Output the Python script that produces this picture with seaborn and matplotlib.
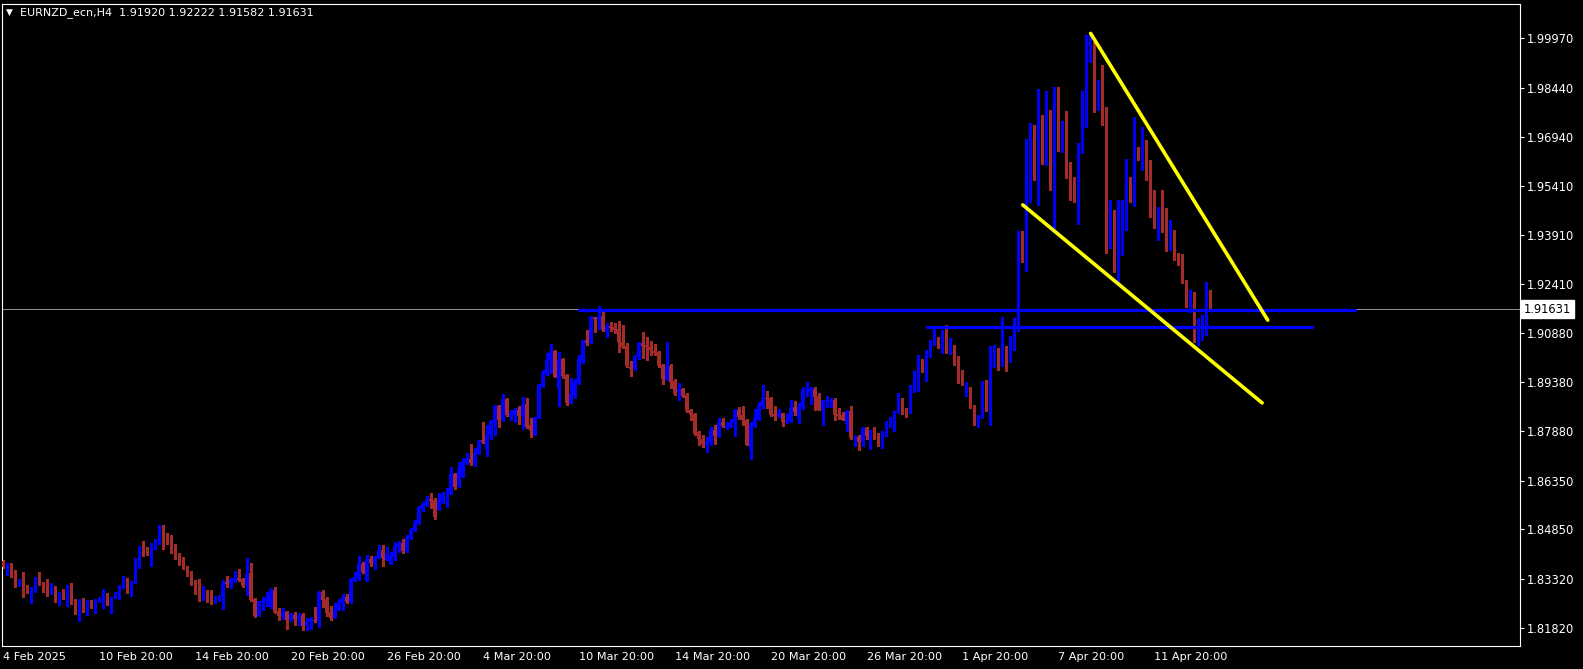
import numpy as np
import pandas as pd
import matplotlib
matplotlib.use("Agg")
import matplotlib.pyplot as plt
import seaborn as sns

# ---------------- data ----------------
title_text = "EURNZD_ecn,H4  1.91920 1.92222 1.91582 1.91631"

opens = [
1.8388,1.8349,1.8372,1.8354,1.8313,1.8331,1.8310,1.8280,1.8293,1.8337,
1.8316,1.8316,1.8288,1.8273,1.8267,1.8285,1.8273,1.8291,1.8265,1.8231,
1.8269,1.8237,1.8254,1.8246,1.8262,1.8246,1.8275,1.8256,1.8274,1.8283,
1.8305,1.8315,1.8290,1.8320,1.8392,1.8432,1.8429,1.8374,1.8426,1.8442,
1.8491,1.8457,1.8452,1.8421,1.8400,1.8390,1.8365,1.8347,1.8323,1.8306,
1.8286,1.8292,1.8271,1.8264,1.8265,1.8278,1.8323,1.8317,1.8325,1.8335,
1.8332,1.8312,1.8351,1.8269,1.8219,1.8262,1.8264,1.8244,1.8298,1.8234,
1.8219,1.8230,1.8206,1.8221,1.8209,1.8221,1.8187,1.8199,1.8206,1.8201,
1.8292,1.8270,1.8231,1.8213,1.8237,1.8259,1.8276,1.8261,1.8326,1.8336,
1.8377,1.8326,1.8393,1.8382,1.8397,1.8421,1.8391,1.8379,1.8400,1.8430,
1.8442,1.8418,1.8459,1.8483,1.8503,1.8547,1.8560,1.8578,1.8575,1.8547,
1.8570,1.8592,1.8595,1.8655,1.8619,1.8647,1.8688,1.8701,1.8690,1.8718,
1.8760,1.8729,1.8778,1.8813,1.8865,1.8820,1.8885,1.8832,1.8837,1.8852,
1.8834,1.8871,1.8806,1.8775,1.8829,1.8927,1.8963,1.9004,1.9034,1.8921,
1.9008,1.8960,1.8875,1.8899,1.8936,1.9001,1.9067,1.9060,1.9138,1.9134,
1.9142,1.9094,1.9111,1.9107,1.9102,1.9061,1.9050,1.8986,1.8979,1.9017,
1.9058,1.9053,1.9046,1.9035,1.9031,1.8991,1.8947,1.8988,1.8943,1.8909,
1.8917,1.8899,1.8852,1.8840,1.8783,1.8763,1.8745,1.8750,1.8791,1.8773,
1.8814,1.8798,1.8801,1.8816,1.8852,1.8837,1.8822,1.8729,1.8803,1.8825,
1.8863,1.8888,1.8888,1.8840,1.8834,1.8842,1.8816,1.8819,1.8861,1.8825,
1.8860,1.8911,1.8912,1.8917,1.8894,1.8851,1.8881,1.8879,1.8883,1.8840,
1.8837,1.8809,1.8850,1.8768,1.8768,1.8755,1.8796,1.8760,1.8786,1.8775,
1.8748,1.8776,1.8809,1.8794,1.8844,1.8883,1.8850,1.8844,1.8912,1.8914,
1.9007,1.8986,1.9032,1.9053,1.9070,1.9032,1.9091,1.9032,1.9050,1.9001,
1.8957,1.8906,1.8914,1.8865,1.8812,1.8830,1.8927,1.8853,1.8994,1.9034,
1.8996,1.9010,1.9012,1.9052,1.9099,1.9400,1.9323,1.9533,1.9702,1.9505,
1.9748,1.9721,1.9758,1.9558,1.9844,1.9653,1.9739,1.9579,1.9527,1.9508,
1.9665,1.9727,1.9930,1.9961,1.9825,1.9847,1.9782,1.9363,1.9465,1.9283,
1.9453,1.9456,1.9558,1.9484,1.9653,1.9631,1.9668,1.9579,1.9490,1.9410,
1.9450,1.9416,1.9351,1.9397,1.9320,1.9320,1.9250,1.9173,1.9210,1.9068,
1.9089,1.9099,1.91920]

highs = [
1.8390,1.8380,1.8380,1.8359,1.8331,1.8353,1.8313,1.8306,1.8339,1.8353,
1.8323,1.8331,1.8318,1.8310,1.8293,1.8301,1.8313,1.8319,1.8269,1.8270,
1.8272,1.8267,1.8267,1.8270,1.8275,1.8300,1.8288,1.8277,1.8293,1.8313,
1.8341,1.8334,1.8327,1.8395,1.8434,1.8448,1.8430,1.8442,1.8455,1.8498,
1.8498,1.8472,1.8467,1.8439,1.8411,1.8399,1.8372,1.8357,1.8328,1.8331,
1.8310,1.8298,1.8298,1.8280,1.8283,1.8329,1.8341,1.8334,1.8356,1.8363,
1.8334,1.8397,1.8381,1.8273,1.8265,1.8276,1.8291,1.8303,1.8308,1.8242,
1.8242,1.8232,1.8228,1.8229,1.8228,1.8227,1.8211,1.8214,1.8246,1.8296,
1.8298,1.8275,1.8249,1.8257,1.8269,1.8285,1.8286,1.8334,1.8354,1.8401,
1.8384,1.8406,1.8401,1.8403,1.8437,1.8437,1.8429,1.8416,1.8445,1.8450,
1.8455,1.8466,1.8488,1.8512,1.8557,1.8570,1.8587,1.8598,1.8580,1.8596,
1.8601,1.8611,1.8677,1.8659,1.8693,1.8705,1.8719,1.8746,1.8736,1.8761,
1.8815,1.8806,1.8822,1.8868,1.8868,1.8902,1.8888,1.8852,1.8858,1.8863,
1.8891,1.8890,1.8827,1.8832,1.8931,1.8976,1.9027,1.9056,1.9037,1.9032,
1.9011,1.8962,1.8950,1.8947,1.9022,1.9068,1.9099,1.9142,1.9140,1.9173,
1.9158,1.9119,1.9122,1.9121,1.9127,1.9114,1.9058,1.9003,1.9022,1.9063,
1.9091,1.9078,1.9065,1.9055,1.9033,1.8994,1.9063,1.8994,1.8947,1.8935,
1.8921,1.8904,1.8854,1.8842,1.8786,1.8775,1.8770,1.8799,1.8806,1.8829,
1.8827,1.8814,1.8824,1.8854,1.8860,1.8865,1.8824,1.8816,1.8855,1.8878,
1.8929,1.8911,1.8891,1.8865,1.8854,1.8844,1.8840,1.8883,1.8880,1.8873,
1.8924,1.8937,1.8924,1.8922,1.8904,1.8883,1.8896,1.8889,1.8889,1.8858,
1.8847,1.8853,1.8865,1.8776,1.8776,1.8801,1.8801,1.8791,1.8801,1.8781,
1.8789,1.8817,1.8830,1.8850,1.8904,1.8889,1.8858,1.8930,1.8971,1.9022,
1.9010,1.9037,1.9068,1.9104,1.9078,1.9099,1.9114,1.9073,1.9053,1.9019,
1.8974,1.8938,1.8922,1.8868,1.8837,1.8940,1.8945,1.9050,1.9053,1.9043,
1.9140,1.9050,1.9080,1.9136,1.9404,1.9404,1.9687,1.9736,1.9730,1.9841,
1.9761,1.9835,1.9776,1.9847,1.9847,1.9742,1.9773,1.9616,1.9570,1.9675,
1.9835,2.0007,2.0013,1.9986,1.9869,1.9915,1.9785,1.9499,1.9468,1.9499,
1.9499,1.9625,1.9570,1.9755,1.9662,1.9724,1.9684,1.9622,1.9530,1.9477,
1.9530,1.9474,1.9437,1.9407,1.9336,1.9333,1.9253,1.9222,1.9216,1.9136,
1.9145,1.9246,1.92222]

lows = [
1.8365,1.8344,1.8339,1.8306,1.8310,1.8275,1.8290,1.8259,1.8291,1.8312,
1.8293,1.8279,1.8285,1.8262,1.8252,1.8269,1.8249,1.8255,1.8224,1.8203,
1.8231,1.8221,1.8243,1.8228,1.8261,1.8243,1.8251,1.8228,1.8272,1.8271,
1.8303,1.8288,1.8280,1.8318,1.8367,1.8404,1.8406,1.8373,1.8424,1.8439,
1.8424,1.8439,1.8413,1.8394,1.8375,1.8361,1.8341,1.8313,1.8286,1.8265,
1.8267,1.8261,1.8255,1.8259,1.8263,1.8240,1.8308,1.8303,1.8323,1.8324,
1.8308,1.8283,1.8263,1.8216,1.8217,1.8235,1.8247,1.8242,1.8228,1.8204,
1.8208,1.8177,1.8201,1.8190,1.8190,1.8175,1.8175,1.8177,1.8198,1.8183,
1.8245,1.8218,1.8206,1.8211,1.8235,1.8237,1.8259,1.8259,1.8324,1.8329,
1.8350,1.8326,1.8373,1.8362,1.8395,1.8372,1.8389,1.8378,1.8391,1.8416,
1.8413,1.8414,1.8455,1.8478,1.8501,1.8542,1.8557,1.8550,1.8516,1.8544,
1.8567,1.8552,1.8594,1.8608,1.8616,1.8645,1.8686,1.8684,1.8681,1.8717,
1.8750,1.8712,1.8763,1.8775,1.8799,1.8819,1.8834,1.8822,1.8816,1.8809,
1.8793,1.8798,1.8770,1.8774,1.8827,1.8924,1.8960,1.8967,1.8953,1.8866,
1.8950,1.8868,1.8873,1.8888,1.8932,1.8996,1.9051,1.9058,1.9091,1.9102,
1.9094,1.9078,1.9094,1.9089,1.9032,1.9042,1.8986,1.8958,1.8974,1.9008,
1.9012,1.9006,1.9022,1.9022,1.8984,1.8932,1.8945,1.8921,1.8899,1.8883,
1.8891,1.8847,1.8822,1.8775,1.8745,1.8737,1.8724,1.8745,1.8748,1.8770,
1.8799,1.8793,1.8799,1.8773,1.8825,1.8806,1.8744,1.8700,1.8801,1.8820,
1.8858,1.8858,1.8834,1.8820,1.8830,1.8804,1.8813,1.8816,1.8837,1.8811,
1.8855,1.8896,1.8871,1.8853,1.8851,1.8806,1.8861,1.8861,1.8820,1.8824,
1.8820,1.8786,1.8762,1.8740,1.8729,1.8740,1.8762,1.8731,1.8762,1.8740,
1.8735,1.8773,1.8799,1.8786,1.8842,1.8840,1.8832,1.8842,1.8909,1.8912,
1.8968,1.8943,1.9014,1.9051,1.9043,1.9027,1.9029,1.9025,1.8991,1.8935,
1.8930,1.8894,1.8858,1.8807,1.8801,1.8827,1.8850,1.8806,1.8986,1.8974,
1.8988,1.8971,1.9000,1.9037,1.9096,1.9308,1.9280,1.9493,1.9561,1.9484,
1.9610,1.9607,1.9530,1.9413,1.9650,1.9647,1.9567,1.9499,1.9493,1.9425,
1.9644,1.9724,1.9924,1.9770,1.9776,1.9730,1.9336,1.9351,1.9277,1.9246,
1.9330,1.9407,1.9493,1.9481,1.9622,1.9591,1.9561,1.9447,1.9413,1.9376,
1.9400,1.9342,1.9345,1.9314,1.9299,1.9243,1.9170,1.9154,1.9062,1.9052,
1.9068,1.9083,1.91582]

closes = [
1.8370,1.8372,1.8351,1.8315,1.8331,1.8308,1.8293,1.8295,1.8337,1.8313,
1.8314,1.8290,1.8298,1.8268,1.8284,1.8273,1.8291,1.8261,1.8233,1.8269,
1.8235,1.8254,1.8246,1.8264,1.8274,1.8275,1.8255,1.8274,1.8285,1.8303,
1.8329,1.8290,1.8322,1.8392,1.8432,1.8424,1.8407,1.8426,1.8443,1.8491,
1.8456,1.8450,1.8431,1.8398,1.8388,1.8365,1.8344,1.8320,1.8290,1.8288,
1.8292,1.8267,1.8265,1.8268,1.8281,1.8319,1.8317,1.8329,1.8335,1.8330,
1.8311,1.8347,1.8267,1.8218,1.8263,1.8267,1.8274,1.8298,1.8231,1.8219,
1.8230,1.8206,1.8224,1.8209,1.8221,1.8187,1.8203,1.8207,1.8202,1.8292,
1.8267,1.8228,1.8211,1.8239,1.8261,1.8276,1.8261,1.8332,1.8338,1.8378,
1.8353,1.8393,1.8382,1.8399,1.8421,1.8397,1.8411,1.8403,1.8433,1.8440,
1.8418,1.8459,1.8483,1.8503,1.8552,1.8563,1.8578,1.8572,1.8522,1.8572,
1.8594,1.8597,1.8655,1.8616,1.8670,1.8692,1.8701,1.8688,1.8719,1.8757,
1.8754,1.8778,1.8819,1.8865,1.8820,1.8885,1.8838,1.8842,1.8852,1.8834,
1.8871,1.8801,1.8786,1.8830,1.8929,1.8965,1.9006,1.9034,1.8955,1.9006,
1.8957,1.8873,1.8902,1.8939,1.9012,1.9067,1.9060,1.9138,1.9134,1.9142,
1.9099,1.9111,1.9106,1.9099,1.9063,1.9047,1.8988,1.8979,1.9019,1.9058,
1.9050,1.9046,1.9037,1.9028,1.8988,1.8948,1.8988,1.8939,1.8902,1.8917,
1.8896,1.8850,1.8837,1.8778,1.8763,1.8748,1.8755,1.8791,1.8773,1.8814,
1.8804,1.8804,1.8816,1.8852,1.8830,1.8820,1.8745,1.8806,1.8827,1.8868,
1.8888,1.8885,1.8837,1.8834,1.8842,1.8816,1.8822,1.8861,1.8847,1.8861,
1.8914,1.8914,1.8918,1.8891,1.8853,1.8880,1.8883,1.8883,1.8837,1.8834,
1.8822,1.8850,1.8767,1.8770,1.8753,1.8796,1.8773,1.8786,1.8770,1.8748,
1.8779,1.8812,1.8822,1.8846,1.8883,1.8845,1.8844,1.8914,1.8930,1.9007,
1.8984,1.9034,1.9056,1.9070,1.9045,1.9091,1.9032,1.9050,1.8998,1.8955,
1.8932,1.8917,1.8863,1.8809,1.8830,1.8927,1.8853,1.8996,1.9034,1.8996,
1.9009,1.8998,1.9068,1.9111,1.9397,1.9323,1.9533,1.9702,1.9570,1.9748,
1.9724,1.9758,1.9558,1.9844,1.9662,1.9739,1.9579,1.9524,1.9508,1.9668,
1.9767,1.9933,1.9961,1.9825,1.9847,1.9782,1.9373,1.9465,1.9283,1.9456,
1.9456,1.9558,1.9502,1.9653,1.9631,1.9668,1.9579,1.9490,1.9465,1.9450,
1.9416,1.9351,1.9397,1.9320,1.9311,1.9250,1.9173,1.9213,1.9068,1.9089,
1.9120,1.9197,1.91631]

bid_price = 1.91631

xtick_labels = ["4 Feb 2025", "10 Feb 20:00", "14 Feb 20:00", "20 Feb 20:00",
                "26 Feb 20:00", "4 Mar 20:00", "10 Mar 20:00", "14 Mar 20:00",
                "20 Mar 20:00", "26 Mar 20:00", "1 Apr 20:00", "7 Apr 20:00",
                "11 Apr 20:00"]
bars_per_label = 24

ytick_values = [1.99970, 1.98440, 1.96940, 1.95410, 1.93910, 1.92410, 1.90880,
                1.89380, 1.87880, 1.86350, 1.84850, 1.83320, 1.81820]

# horizontal levels drawn on the chart (price, first bar, last bar)
level_prices = [1.9161, 1.9108]
level_start_bar = [144.1, 231.2]
level_end_bar = [338.3, 327.5]

# trend lines (bar, price)
upper_trend_bar = [272.1, 316.4]
upper_trend_price = [2.0012, 1.9129]
lower_trend_bar = [255.1, 315.0]
lower_trend_price = [1.9484, 1.8874]

# ---------------- styling ----------------
sns.set_style("dark", rc={"axes.facecolor": "black", "figure.facecolor": "black",
                          "axes.edgecolor": "white", "axes.grid": False,
                          "xtick.color": "white", "ytick.color": "white",
                          "text.color": "white"})
plt.rcParams["font.family"] = ["DejaVu Sans"]

BULL = "#0000FF"
BEAR = "#A52A2A"

n = min(len(opens), len(highs), len(lows), len(closes))
df = pd.DataFrame({"bar": np.arange(n), "open": opens[:n], "high": highs[:n],
                   "low": lows[:n], "close": closes[:n]})
df["bull"] = df["close"] >= df["open"]
df["color"] = np.where(df["bull"], BULL, BEAR)
df["body_low"] = df[["open", "close"]].min(axis=1)
df["body_h"] = (df["close"] - df["open"]).abs().clip(lower=0.00025)

W, H = 1583, 669
fig = plt.figure(figsize=(W / 100, H / 100), dpi=100, facecolor="black")
ax = fig.add_axes([2.3 / W, 1 - 646 / H, (1519.5 - 2.3) / W, (646 - 4) / H])
ax.set_facecolor("black")

# wicks
ax.vlines(df["bar"], df["low"], df["high"], colors=df["color"], linewidth=0.9,
          antialiased=False, zorder=2)
# bodies
ax.bar(df["bar"], df["body_h"], bottom=df["body_low"], width=0.8,
       color=df["color"], linewidth=0, antialiased=False, zorder=3)

# bid line
ax.axhline(bid_price, color="#8c8c8c", linewidth=0.75, zorder=1)

# horizontal levels
for p, s, e in zip(level_prices, level_start_bar, level_end_bar):
    lv = pd.DataFrame({"bar": [s, e], "price": [p, p]})
    sns.lineplot(data=lv, x="bar", y="price", color="#0000FF", linewidth=2.3,
                 ax=ax, zorder=4, legend=False)

# trend lines
tr_u = pd.DataFrame({"bar": upper_trend_bar, "price": upper_trend_price})
tr_l = pd.DataFrame({"bar": lower_trend_bar, "price": lower_trend_price})
for tr in (tr_u, tr_l):
    sns.lineplot(data=tr, x="bar", y="price", color="#FFFF00", linewidth=2.6,
                 ax=ax, zorder=5, legend=False, sort=False)

ax.set_xlim(-0.25, 379.4)
ax.set_ylim(1.81253, 2.01027)
ax.set_xlabel("")
ax.set_ylabel("")

# axes / ticks
for sp in ax.spines.values():
    sp.set_color("white")
    sp.set_linewidth(0.8)

ax.yaxis.tick_right()
ax.set_yticks(ytick_values)
ax.set_yticklabels([f"{v:.5f}" for v in ytick_values])
ax.tick_params(axis="y", direction="out", length=3, width=0.8, pad=2.6,
               labelsize=8.3, colors="white", left=False, right=True)

xt = np.arange(len(xtick_labels)) * bars_per_label
ax.set_xticks(xt)
ax.set_xticklabels(xtick_labels, ha="left")
ax.tick_params(axis="x", direction="out", length=3, width=0.8, pad=1.5,
               labelsize=8.1, colors="white")
for lab in ax.get_xticklabels():
    lab.set_horizontalalignment("left")

# current price box
ax.annotate(f"{bid_price:.5f}", xy=(1.0, bid_price),
            xycoords=("axes fraction", "data"), xytext=(2.8, 0),
            textcoords="offset points", ha="left", va="center", fontsize=8.3,
            color="black", annotation_clip=False,
            bbox=dict(boxstyle="square,pad=0.25", fc="white", ec="white"))

# title
fig.text(6 / W, 1 - 12.5 / H, "\u25BC", fontsize=6.5, color="white", va="center", ha="left")
fig.text(20.5 / W, 1 - 12.5 / H, title_text, fontsize=8, color="white",
         va="center", ha="left")

fig.savefig("out.png", dpi=100, facecolor="black")
